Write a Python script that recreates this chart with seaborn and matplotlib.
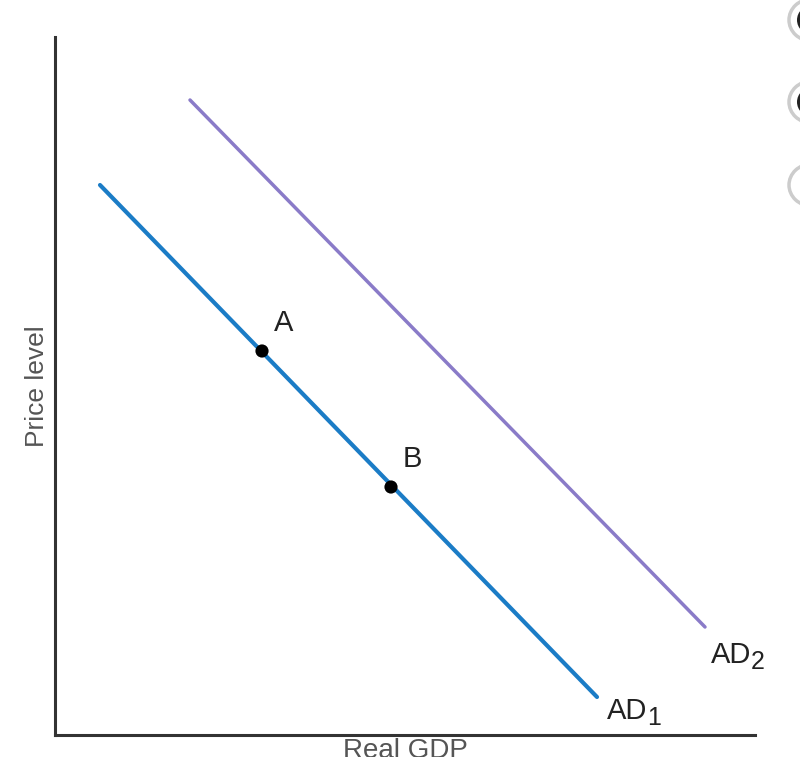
import matplotlib
matplotlib.use("Agg")
import matplotlib.pyplot as plt
import seaborn as sns
import pandas as pd
from matplotlib.patches import Circle
from matplotlib.transforms import offset_copy

sns.set_theme(style="white")
plt.rcParams['font.family'] = ['Liberation Sans', 'DejaVu Sans']

# Data (in arbitrary units)
ad1_x = [45, 542]
ad1_y = [550, 38]
ad2_x = [135, 650]
ad2_y = [635, 108]
point_labels = ["A", "B"]
point_x = [207, 336]
point_y = [384, 248]
curve_names = ["AD", "AD"]
curve_subs = ["1", "2"]

df_lines = pd.DataFrame({
    "x": ad1_x + ad2_x,
    "y": ad1_y + ad2_y,
    "curve": ["AD1"] * 2 + ["AD2"] * 2,
})
df_pts = pd.DataFrame({"x": point_x, "y": point_y, "label": point_labels})

W, H = 800, 757
fig = plt.figure(figsize=(W / 100, H / 100), dpi=100)
ax = fig.add_axes([55 / W, (H - 735) / H, 700 / W, 698 / H])

palette = {"AD1": "#1b7cc6", "AD2": "#8a7bc8"}
sns.lineplot(data=df_lines[df_lines.curve == "AD1"], x="x", y="y", ax=ax,
             color=palette["AD1"], lw=3.0, legend=False)
sns.lineplot(data=df_lines[df_lines.curve == "AD2"], x="x", y="y", ax=ax,
             color=palette["AD2"], lw=2.5, legend=False)
sns.scatterplot(data=df_pts, x="x", y="y", ax=ax, color="black", s=90,
                edgecolor="none", zorder=5, legend=False)

for lab, px, py in zip(point_labels, point_x, point_y):
    ax.text(px + 12, py + 14, lab, fontsize=21, color="#222222",
            ha="left", va="bottom")

# curve labels with manual subscripts (offsets in pixels -> points)
ends = [(ad1_x[1], ad1_y[1], 10, 0), (ad2_x[1], ad2_y[1], 6, -14)]
for (ex, ey, dx, dy), nm, sb in zip(ends, curve_names, curve_subs):
    t1 = offset_copy(ax.transData, fig=fig, x=dx * 0.72, y=dy * 0.72, units="points")
    ax.text(ex, ey, nm, transform=t1, fontsize=21, color="#222222",
            ha="left", va="top")
    t2 = offset_copy(ax.transData, fig=fig, x=(dx + 40) * 0.72, y=(dy - 9) * 0.72,
                     units="points")
    ax.text(ex, ey, sb, transform=t2, fontsize=18, color="#222222",
            ha="left", va="top")

ax.set_xlim(0, 700)
ax.set_ylim(0, 698)
ax.set_xticks([])
ax.set_yticks([])
ax.set_xlabel("Real GDP", fontsize=20, color="#555555", labelpad=2)
ax.set_ylabel("Price level", fontsize=19, color="#555555", labelpad=4)
for side in ["top", "right"]:
    ax.spines[side].set_visible(False)
for side in ["left", "bottom"]:
    ax.spines[side].set_color("#333333")
    ax.spines[side].set_linewidth(2.2)

# partial radio buttons on right edge
for cy, filled in [(20, True), (102, True), (185, False)]:
    c = Circle((811 / W, 1 - cy / H), 22 / W, transform=fig.transFigure,
               facecolor="white", edgecolor="#cccccc", lw=2.5, clip_on=False)
    fig.patches.append(c)
    if filled:
        c2 = Circle((813 / W, 1 - cy / H), 16 / W, transform=fig.transFigure,
                    facecolor="#222222", edgecolor="none", clip_on=False)
        fig.patches.append(c2)

fig.savefig("out.png", dpi=100)
